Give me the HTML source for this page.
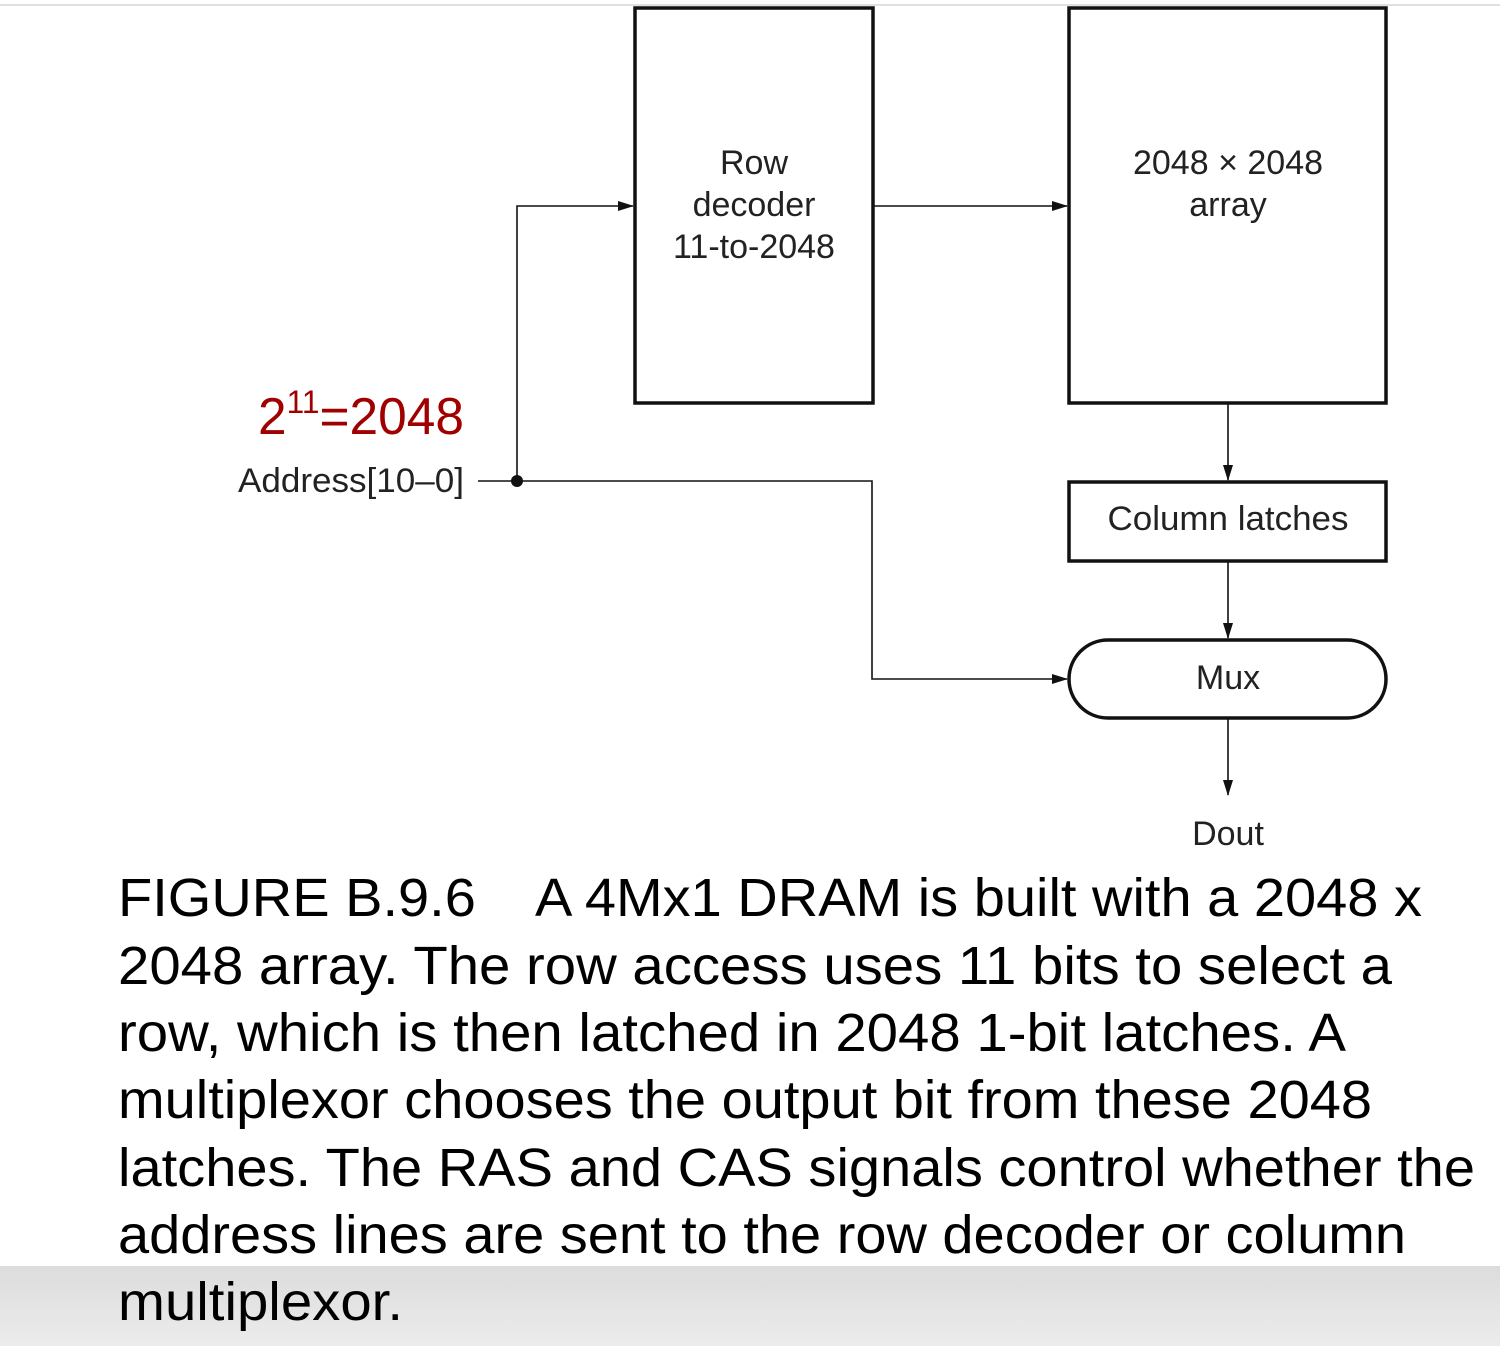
<!DOCTYPE html>
<html><head><meta charset="utf-8"><style>
html,body{margin:0;padding:0;background:#fff;}
svg{display:block;}
</style></head><body>
<svg width="1500" height="1346" viewBox="0 0 1500 1346" xmlns="http://www.w3.org/2000/svg">
<defs>
<marker id="a" markerWidth="16" markerHeight="12" refX="15" refY="6" orient="auto" markerUnits="userSpaceOnUse">
<path d="M0,1 L16,6 L0,11 Z" fill="#111"/>
</marker>
<linearGradient id="g" x1="0" y1="0" x2="0" y2="1"><stop offset="0" stop-color="#dcdcdc"/><stop offset="1" stop-color="#ececec"/></linearGradient>
</defs>
<rect x="0" y="0" width="1500" height="1346" fill="#fff"/>
<rect x="0" y="4" width="1500" height="2" fill="#e0e0e0"/>
<rect x="0" y="1266" width="1500" height="80" fill="url(#g)"/>

<g fill="none" stroke="#111" stroke-width="3.5">
<rect x="635" y="8" width="238" height="395"/>
<rect x="1069" y="8" width="317" height="395"/>
<rect x="1069" y="482" width="317" height="79"/>
<rect x="1069" y="640" width="317" height="78" rx="39" ry="39"/>
</g>
<g fill="none" stroke="#111" stroke-width="1.6">
<path d="M517,481 L517,206 L633,206" marker-end="url(#a)"/>
<path d="M873,206 L1067,206" marker-end="url(#a)"/>
<path d="M1228,403 L1228,480" marker-end="url(#a)"/>
<path d="M1228,561 L1228,638" marker-end="url(#a)"/>
<path d="M1228,718 L1228,795" marker-end="url(#a)"/>
<path d="M478,481 L872,481 L872,679 L1067,679" marker-end="url(#a)"/>
</g>
<circle cx="517" cy="481" r="6" fill="#111"/>

<g font-family="Liberation Sans, sans-serif" font-size="34" fill="#222" text-anchor="middle">
<text x="754" y="174">Row</text>
<text x="754" y="216">decoder</text>
<text x="754" y="258">11-to-2048</text>
<text x="1228" y="174">2048 × 2048</text>
<text x="1228" y="216">array</text>
<text x="1228" y="530" textLength="241" lengthAdjust="spacingAndGlyphs">Column latches</text>
<text x="1228" y="689">Mux</text>
<text x="1228" y="845">Dout</text>
<text x="238" y="492" text-anchor="start" textLength="226" lengthAdjust="spacingAndGlyphs">Address[10–0]</text>
</g>
<text x="258" y="434" font-family="Liberation Sans, sans-serif" font-size="52" fill="#a00000" textLength="206" lengthAdjust="spacingAndGlyphs">2<tspan font-size="32" dy="-21">11</tspan><tspan dy="21">=2048</tspan></text>

<g font-family="Liberation Sans, sans-serif" font-size="54" fill="#000">
<text x="118" y="916" textLength="1304" lengthAdjust="spacingAndGlyphs" xml:space="preserve">FIGURE B.9.6    A 4Mx1 DRAM is built with a 2048 x</text>
<text x="118" y="984" textLength="1274" lengthAdjust="spacingAndGlyphs">2048 array. The row access uses 11 bits to select a</text>
<text x="118" y="1051" textLength="1228" lengthAdjust="spacingAndGlyphs">row, which is then latched in 2048 1-bit latches. A</text>
<text x="118" y="1118" textLength="1254" lengthAdjust="spacingAndGlyphs">multiplexor chooses the output bit from these 2048</text>
<text x="118" y="1186" textLength="1357" lengthAdjust="spacingAndGlyphs">latches. The RAS and CAS signals control whether the</text>
<text x="118" y="1253" textLength="1288" lengthAdjust="spacingAndGlyphs">address lines are sent to the row decoder or column</text>
<text x="118" y="1320" textLength="285" lengthAdjust="spacingAndGlyphs">multiplexor.</text>
</g>
</svg>
</body></html>
